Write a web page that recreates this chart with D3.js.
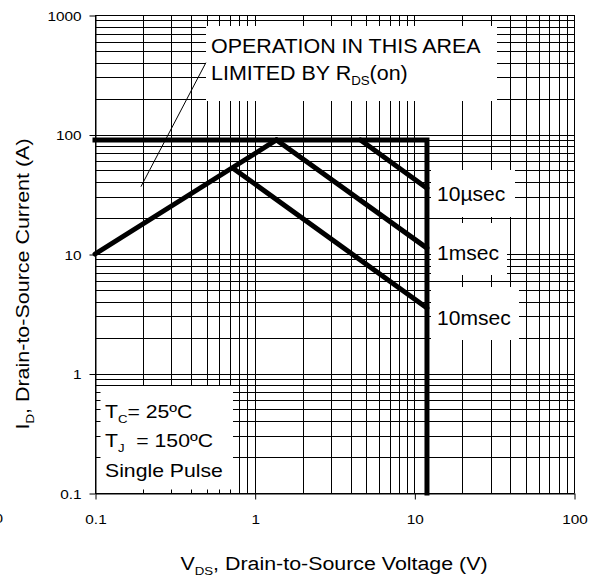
<!DOCTYPE html>
<html>
<head>
<meta charset="utf-8">
<script src="https://cdn.jsdelivr.net/npm/d3@7"></script>
<style>
  html, body { margin: 0; padding: 0; background: #fff; }
  svg { display: block; }
  text { font-family: "Liberation Sans", Arial, Helvetica, sans-serif; fill: #000; white-space: pre; }
</style>
</head>
<body>
<svg id="chart" width="594" height="580"></svg>
<script>
// ---------------- data ----------------
const xDomain = [0.1, 100];
const yDomain = [0.1, 1000];
const xTickValues = [0.1, 1, 10, 100];
const xTickLabels = ["0.1", "1", "10", "100"];
const yTickValues = [0.1, 1, 10, 100, 1000];
const yTickLabels = ["0.1", "1", "10", "100", "1000"];

// RDS(on) limit line
const rdsLimitV = [0.1, 1.37];
const rdsLimitI = [10, 90];
// package current limit + max VDS boundary
const boundaryV = [0.1, 12, 12];
const boundaryI = [90, 90, 0.1];
// pulse lines
const pulseNames = ["10µsec", "1msec", "10msec"];
const pulseStartV = [4.6, 1.37, 0.735];
const pulseStartI = [90, 90, 52];
const pulseEndV = [12, 12, 12];
const pulseEndI = [35.5, 11.2, 3.53];
// annotation pointer
const pointerV = [0.194, 0.495];
const pointerI = [36.6, 399];

// ---------------- layout ----------------
const svg = d3.select("#chart");
const x = d3.scaleLog().domain(xDomain).range([95, 574]);
const y = d3.scaleLog().domain(yDomain).range([493, 15]);
const crisp = v => Math.round(v) + 0.5;

// grid
const grid = svg.append("g").attr("stroke", "#000").attr("stroke-width", 1);
grid.selectAll("line.v").data(x.ticks()).join("line")
  .attr("class", "v")
  .attr("x1", d => crisp(x(d))).attr("x2", d => crisp(x(d)))
  .attr("y1", y.range()[1]).attr("y2", y.range()[0]);
grid.selectAll("line.h").data(y.ticks()).join("line")
  .attr("class", "h")
  .attr("y1", d => crisp(y(d))).attr("y2", d => crisp(y(d)))
  .attr("x1", x.range()[0]).attr("x2", x.range()[1]);

// white label boxes
const boxes = [
  [206, 26, 291, 75],
  [96, 386, 137, 106],
  [431, 170, 84, 47],
  [431, 223, 76, 52],
  [431, 287, 88, 53]
];
svg.append("g").selectAll("rect").data(boxes).join("rect")
  .attr("x", d => d[0]).attr("y", d => d[1]).attr("width", d => d[2]).attr("height", d => d[3])
  .attr("fill", "#fff");

// inward minor ticks
const mt = svg.append("g").attr("stroke", "#000").attr("stroke-width", 1);
mt.selectAll("line.mx").data(x.ticks()).join("line")
  .attr("x1", d => crisp(x(d))).attr("x2", d => crisp(x(d)))
  .attr("y1", crisp(y(0.1))).attr("y2", crisp(y(0.1)) - 4);
mt.selectAll("line.my").data(y.ticks()).join("line")
  .attr("y1", d => crisp(y(d))).attr("y2", d => crisp(y(d)))
  .attr("x1", crisp(x(0.1))).attr("x2", crisp(x(0.1)) + 5);

// axes
const tickFont = 13, tickSx = 1.18;
const xAxis = svg.append("g").attr("transform", `translate(0.5,${crisp(y(0.1))})`)
  .call(d3.axisBottom(x).tickValues(xTickValues).tickSize(6).tickSizeOuter(0)
    .tickFormat((d, i) => xTickLabels[i]));
const yAxis = svg.append("g").attr("transform", `translate(${crisp(x(0.1))},0.5)`)
  .call(d3.axisLeft(y).tickValues(yTickValues).tickSize(6).tickSizeOuter(0)
    .tickFormat((d, i) => yTickLabels[i]));
[xAxis, yAxis].forEach(a => {
  a.select(".domain").attr("stroke", "#000").attr("stroke-width", 1);
  a.selectAll(".tick line").attr("stroke", "#000");
  a.attr("font-family", null).attr("font-size", null);
});
xAxis.selectAll(".tick text")
  .attr("font-size", tickFont).attr("y", null).attr("dy", null)
  .attr("transform", `translate(0,30) scale(${tickSx},1)`);
yAxis.selectAll(".tick text")
  .attr("font-size", tickFont).attr("x", null).attr("dy", "0.36em")
  .attr("transform", `translate(-14,0) scale(${tickSx},1)`);

// clipped stray label at left edge
svg.append("text").attr("font-size", tickFont).attr("text-anchor", "end")
  .attr("transform", `translate(3,523) scale(${tickSx},1)`).text("0");

// curves
const line = d3.line().x(d => x(d[0])).y(d => y(d[1]));
svg.append("path")
  .attr("d", line(boundaryV.map((v, i) => [v, boundaryI[i]])))
  .attr("fill", "none").attr("stroke", "#000").attr("stroke-width", 5)
  .attr("stroke-linecap", "square").attr("stroke-linejoin", "miter");
svg.append("path")
  .attr("d", line(rdsLimitV.map((v, i) => [v, rdsLimitI[i]])))
  .attr("fill", "none").attr("stroke", "#000").attr("stroke-width", 5)
  .attr("stroke-linecap", "round");
svg.append("g").selectAll("path").data(pulseNames).join("path")
  .attr("d", (d, i) => line([[pulseStartV[i], pulseStartI[i]], [pulseEndV[i], pulseEndI[i]]]))
  .attr("fill", "none").attr("stroke", "#000").attr("stroke-width", 5)
  .attr("stroke-linecap", "round");

// annotation pointer
svg.append("path")
  .attr("d", line(pointerV.map((v, i) => [v, pointerI[i]])))
  .attr("fill", "none").attr("stroke", "#000").attr("stroke-width", 1);

// ---------------- text ----------------
function label(x0, y0, size, sx, anchor, rot) {
  return svg.append("text")
    .attr("transform", `translate(${x0},${y0})${rot ? " rotate(" + rot + ")" : ""} scale(${sx},1)`)
    .attr("font-size", size).attr("text-anchor", anchor || "start");
}
function sub(t, main, s, size) {
  t.append("tspan").text(main);
  t.append("tspan").attr("font-size", size * 0.62).attr("dy", size * 0.28).text(s);
  return t.append("tspan").attr("dy", -size * 0.28);
}

// box annotation
label(211, 53, 19.5, 1.1).text("OPERATION IN THIS AREA");
sub(label(211, 80, 19.5, 1.1), "LIMITED BY R", "DS", 19.5).text("(on)");

// conditions
sub(label(105, 418, 18.6, 1.14), "T", "C", 18.6).text("= 25ºC");
sub(label(105, 447, 18.6, 1.14), "T", "J", 18.6).text("  = 150ºC");
label(105, 477, 18.6, 1.14).text("Single Pulse");

// pulse labels
const pulseLabelY = [201, 260, 325];
pulseNames.forEach((n, i) => label(437, pulseLabelY[i], 19.5, 1.08).text(n));

// axis titles
sub(label(334, 570, 18.6, 1.15, "middle"), "V", "DS", 18.6).text(", Drain-to-Source Voltage (V)");
sub(label(29, 284, 19, 1.13, "middle", -90), "I", "D", 19).text(", Drain-to-Source Current (A)");
</script>
</body>
</html>
